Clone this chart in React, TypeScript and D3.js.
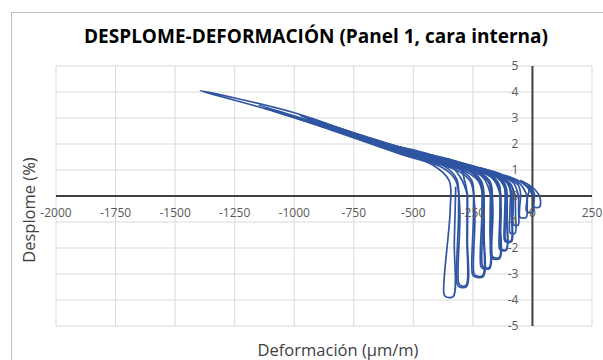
import React from 'react';
import * as d3 from 'd3';

// tick values
const xTicks = [-2000, -1750, -1500, -1250, -1000, -750, -500, -250, 0, 250];
const yTicks = [-5, -4, -3, -2, -1, 0, 1, 2, 3, 4, 5];

// cyclic test, one array per cycle: [deformación µm/m, desplome %]
const cycle1: [number, number][] = [
  [0, 0.0], [-10, 0.25], [-20, 0.45], [-5, 0.3], [8, 0.1], [6, -0.2], [4, -0.42], [30, -0.42], [34, -0.2], [30, 0.0],
];
const cycle2: [number, number][] = [
  [30, 0.0], [10, 0.25], [-20, 0.45], [-50, 0.6], [-30, 0.42], [-15, 0.25], [-22, -0.1], [-26, -0.55], [-20, -0.62], [2, -0.62], [6, -0.3], [5, 0.0],
];
const cycle3: [number, number][] = [
  [5, 0.0], [-20, 0.35], [-60, 0.6], [-120, 0.8], [-90, 0.62], [-60, 0.42], [-50, 0.1], [-54, -0.5], [-52, -0.82], [-26, -0.82], [-22, -0.4], [-22, 0.0],
];
const cycle4: [number, number][] = [
  [-22, 0.0], [-50, 0.45], [-120, 0.8], [-235, 1.1], [-170, 0.85], [-110, 0.62], [-85, 0.35], [-80, -0.3], [-82, -1.0], [-78, -1.12], [-60, -1.12], [-58, -0.6], [-58, 0.0],
];
const cycle5: [number, number][] = [
  [-58, 0.0], [-80, 0.5], [-150, 0.88], [-260, 1.15], [-390, 1.45], [-300, 1.15], [-190, 0.88], [-120, 0.7], [-96, 0.4], [-94, -0.5], [-96, -1.35], [-92, -1.43], [-73, -1.43], [-71, -0.7], [-72, 0.0],
];
const cycle6: [number, number][] = [
  [-72, 0.0], [-95, 0.5], [-160, 0.9], [-300, 1.25], [-525, 1.75], [-400, 1.42], [-250, 1.05], [-150, 0.8], [-118, 0.45], [-116, -0.5], [-118, -1.68], [-113, -1.76], [-88, -1.76], [-86, -0.8], [-86, 0.0],
];
const cycle6b: [number, number][] = [
  [-86, 0.0], [-100, 0.45], [-165, 0.82], [-300, 1.17], [-500, 1.66], [-390, 1.36], [-250, 1.0], [-150, 0.74], [-120, 0.4], [-112, -0.5], [-114, -1.65], [-109, -1.72], [-90, -1.72], [-87, -0.8], [-86, 0.0],
];
const cycle7: [number, number][] = [
  [-86, 0.0], [-110, 0.55], [-180, 0.95], [-350, 1.36], [-650, 2.1], [-480, 1.6], [-300, 1.15], [-180, 0.85], [-140, 0.45], [-136, -0.5], [-139, -2.0], [-134, -2.08], [-109, -2.08], [-106, -1.0], [-106, 0.0],
];
const cycle7b: [number, number][] = [
  [-106, 0.0], [-118, 0.5], [-185, 0.88], [-350, 1.28], [-620, 1.98], [-470, 1.52], [-300, 1.08], [-185, 0.8], [-143, 0.42], [-132, -0.5], [-135, -1.98], [-130, -2.05], [-110, -2.05], [-107, -1.0], [-106, 0.0],
];
const cycle8: [number, number][] = [
  [-106, 0.0], [-130, 0.55], [-200, 1.0], [-400, 1.47], [-752, 2.4], [-560, 1.82], [-350, 1.25], [-220, 0.9], [-175, 0.5], [-171, -0.5], [-175, -2.3], [-169, -2.4], [-137, -2.4], [-134, -1.2], [-134, 0.0],
];
const cycle8b: [number, number][] = [
  [-134, 0.0], [-145, 0.5], [-210, 0.92], [-400, 1.38], [-720, 2.28], [-550, 1.74], [-350, 1.18], [-225, 0.84], [-178, 0.46], [-166, -0.5], [-170, -2.28], [-164, -2.36], [-139, -2.36], [-136, -1.2], [-135, 0.0],
];
const cycle9: [number, number][] = [
  [-134, 0.0], [-160, 0.6], [-230, 1.08], [-450, 1.58], [-880, 2.8], [-650, 2.05], [-420, 1.4], [-270, 0.98], [-218, 0.55], [-212, -0.5], [-217, -2.68], [-210, -2.78], [-179, -2.78], [-176, -1.3], [-175, 0.0],
];
const cycle9b: [number, number][] = [
  [-175, 0.0], [-185, 0.55], [-240, 1.0], [-450, 1.5], [-850, 2.68], [-640, 1.98], [-420, 1.33], [-275, 0.92], [-222, 0.5], [-207, -0.5], [-211, -2.65], [-204, -2.74], [-181, -2.74], [-178, -1.3], [-176, 0.0],
];
const cycle10: [number, number][] = [
  [-175, 0.0], [-200, 0.62], [-270, 1.18], [-500, 1.7], [-975, 3.1], [-720, 2.25], [-470, 1.5], [-310, 1.05], [-255, 0.6], [-247, -0.5], [-252, -3.0], [-244, -3.1], [-207, -3.1], [-203, -1.5], [-203, 0.0],
];
const cycle10b: [number, number][] = [
  [-203, 0.0], [-215, 0.58], [-275, 1.1], [-500, 1.62], [-950, 2.98], [-710, 2.17], [-470, 1.43], [-315, 0.98], [-260, 0.55], [-242, -0.5], [-246, -2.96], [-239, -3.06], [-209, -3.06], [-205, -1.5], [-204, 0.0],
];
const cycle11: [number, number][] = [
  [-203, 0.0], [-230, 0.65], [-300, 1.25], [-550, 1.83], [-1150, 3.5], [-850, 2.6], [-550, 1.68], [-370, 1.15], [-318, 0.65], [-310, -0.5], [-316, -3.38], [-308, -3.49], [-277, -3.49], [-273, -1.7], [-272, 0.0],
];
const cycle11b: [number, number][] = [
  [-272, 0.0], [-285, 0.6], [-310, 1.17], [-550, 1.75], [-1120, 3.38], [-840, 2.52], [-550, 1.6], [-375, 1.08], [-322, 0.6], [-305, -0.5], [-310, -3.34], [-302, -3.44], [-279, -3.44], [-275, -1.7], [-274, 0.0],
];
const cycle12: [number, number][] = [
  [-272, 0.0], [-300, 0.68], [-370, 1.38], [-650, 2.1], [-1000, 3.2], [-1395, 4.05], [-1100, 3.3], [-800, 2.42], [-550, 1.65], [-420, 1.2], [-350, 0.6], [-345, -0.5], [-372, -3.74], [-365, -3.87], [-333, -3.87], [-328, -1.8], [-322, 0.36],
];
const cycles = [
  cycle1, cycle2, cycle3, cycle4, cycle5, cycle6, cycle6b, cycle7, cycle7b,
  cycle8, cycle8b, cycle9, cycle9b, cycle10, cycle10b, cycle11, cycle11b, cycle12,
];

const W = 603;
const H = 360;
const FONT = "'Open Sans', 'Noto Sans', sans-serif";

export default function App() {
  const x = d3.scaleLinear().domain([-2000, 250]).range([56, 592]);
  const y = d3.scaleLinear().domain([-5, 5]).range([326, 66]);

  const line = d3
    .line<[number, number]>()
    .x(d => x(d[0]))
    .y(d => y(d[1]))
    .curve(d3.curveCatmullRom.alpha(0.5));

  return (
    <svg width={W} height={H} style={{ position: 'absolute', left: 0, top: 0, background: '#fff' }}>
      <rect x={11.5} y={12.5} width={700} height={500} fill="#fff" stroke="#bfbfbf" />

      <text x={316} y={43} textAnchor="middle" fontFamily={FONT} fontWeight="bold" fontSize={19} fill="#000">
        DESPLOME-DEFORMACIÓN (Panel 1, cara interna)
      </text>

      {/* grid */}
      {xTicks.map(t => (
        <line key={'gx' + t} x1={x(t)} x2={x(t)} y1={y(5)} y2={y(-5)} stroke="#d9d9d9" strokeWidth={1} />
      ))}
      {yTicks.map(t => (
        <line key={'gy' + t} x1={x(-2000)} x2={x(250)} y1={y(t)} y2={y(t)} stroke="#d9d9d9" strokeWidth={1} />
      ))}

      {/* axes through zero */}
      <line x1={x(-2000)} x2={x(250)} y1={y(0)} y2={y(0)} stroke="#404040" strokeWidth={2} />
      <line x1={x(0)} x2={x(0)} y1={y(5)} y2={y(-5)} stroke="#404040" strokeWidth={2} />

      {/* series */}
      {cycles.map((c, i) => (
        <path key={i} d={line(c) || ''} fill="none" stroke="#2f55a2" strokeWidth={1.7} strokeLinejoin="round" />
      ))}

      {/* tick labels */}
      {xTicks.map(t => (
        <text key={'tx' + t} x={x(t)} y={y(0) + 21} textAnchor="middle" fontFamily={FONT} fontSize={12} fill="#595959">
          {t}
        </text>
      ))}
      {yTicks.map(t => (
        <text key={'ty' + t} x={x(0) - 14} y={y(t) + 4} textAnchor="end" fontFamily={FONT} fontSize={12} fill="#595959">
          {t}
        </text>
      ))}

      {/* axis titles */}
      <text x={338} y={356} textAnchor="middle" fontFamily={FONT} fontSize={16.5} fill="#404040">
        Deformación (µm/m)
      </text>
      <text transform="translate(35,210) rotate(-90)" textAnchor="middle" fontFamily={FONT} fontSize={16.5} fill="#404040">
        Desplome (%)
      </text>
    </svg>
  );
}
